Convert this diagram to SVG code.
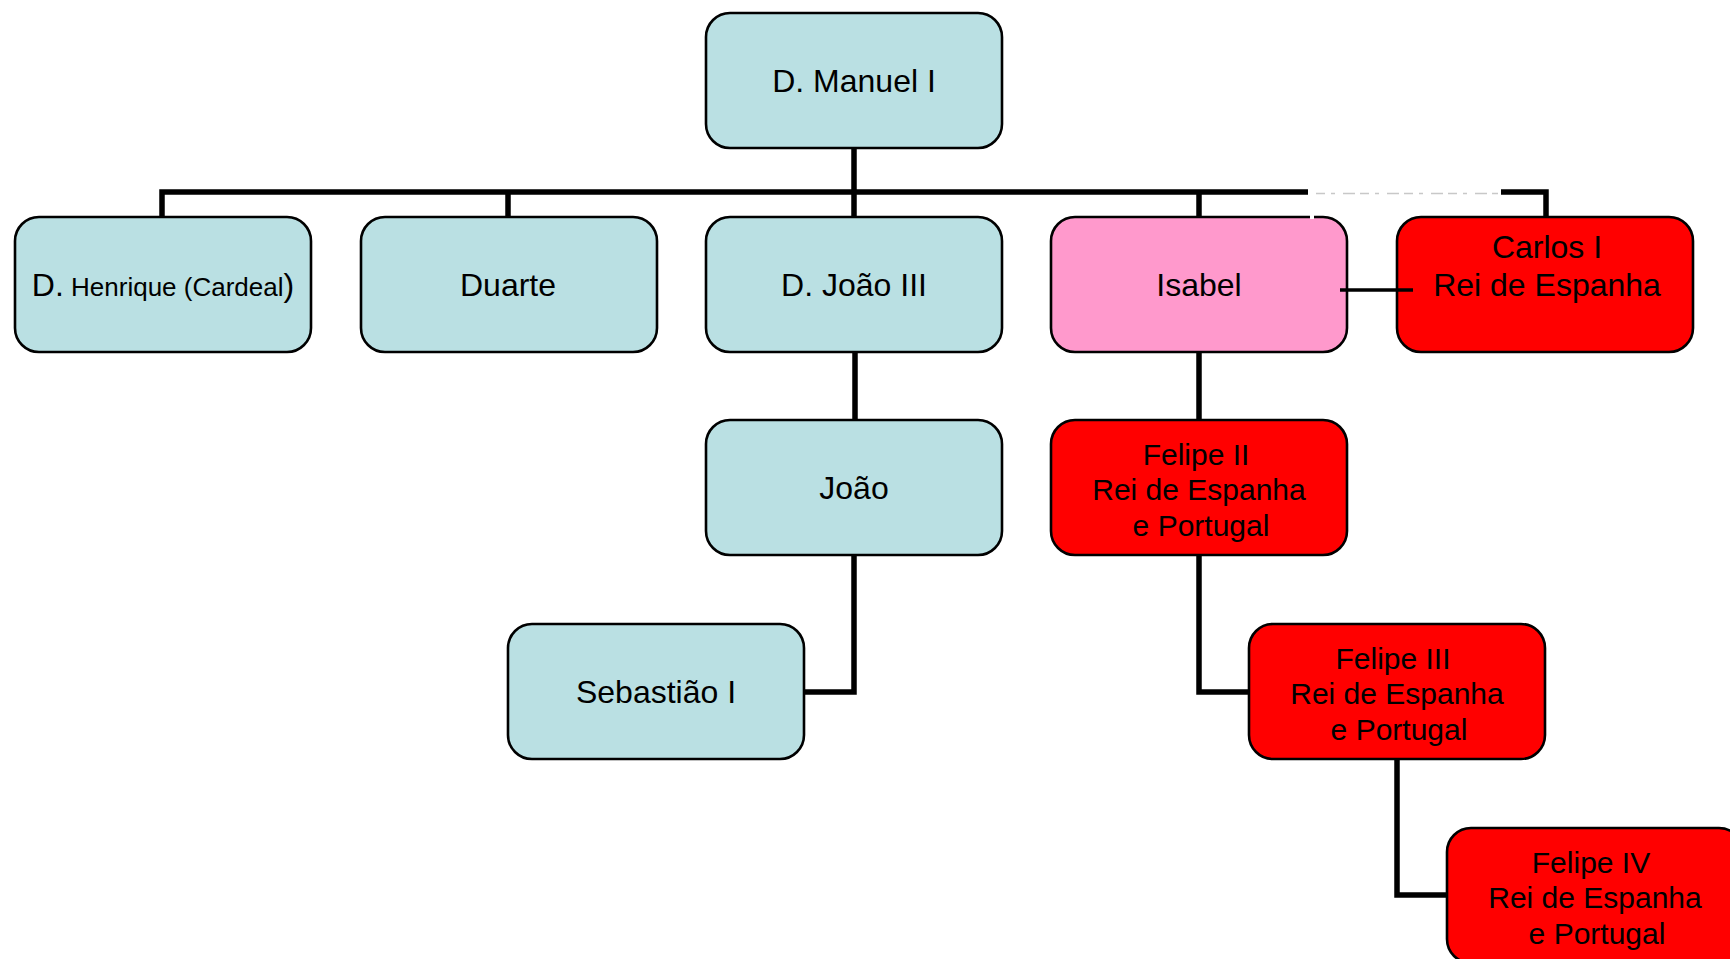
<svg xmlns="http://www.w3.org/2000/svg" width="1730" height="959" viewBox="0 0 1730 959">
<style>
.box{stroke:#000;stroke-width:2.6}
.blue{fill:#BAE0E3}
.pink{fill:#FF99CC}
.red{fill:#FF0000}
.conn{fill:none;stroke:#000;stroke-width:5.5;stroke-linejoin:miter;stroke-linecap:butt}
text{font-family:"Liberation Sans",Arial,sans-serif;fill:#000;text-anchor:middle}
.t{font-size:32px}
.f{font-size:30px}
</style>
<rect width="1730" height="959" fill="#fff"/>
<g id="manuel"><rect class="box blue" x="706" y="13" width="296" height="135" rx="24"/><text class="t" x="854" y="92">D. Manuel I</text></g>
<g id="henrique"><rect class="box blue" x="15" y="217" width="296" height="135" rx="24"/><text class="t" x="163" y="296">D.<tspan font-size="26"> Henrique (Cardeal</tspan>)</text></g>
<g id="duarte"><rect class="box blue" x="361" y="217" width="296" height="135" rx="24"/><text class="t" x="508" y="296">Duarte</text></g>
<g id="joao3"><rect class="box blue" x="706" y="217" width="296" height="135" rx="24"/><text class="t" x="854" y="296">D. João III</text></g>
<g id="isabel"><rect class="box pink" x="1051" y="217" width="296" height="135" rx="24"/><text class="t" x="1199" y="296">Isabel</text></g>
<g id="carlos"><rect class="box red" x="1397" y="217" width="296" height="135" rx="24"/><text class="t" x="1547" y="258">Carlos I</text><text class="t" x="1547" y="296">Rei de Espanha</text></g>
<g id="joao"><rect class="box blue" x="706" y="420" width="296" height="135" rx="24"/><text class="t" x="854" y="499">João</text></g>
<g id="sebastiao"><rect class="box blue" x="508" y="624" width="296" height="135" rx="24"/><text class="t" x="656" y="703">Sebastião I</text></g>
<g id="felipe2"><rect class="box red" x="1051" y="420" width="296" height="135" rx="24"/><text class="f" x="1196" y="464.5">Felipe II</text><text class="f" x="1199" y="500">Rei de Espanha</text><text class="f" x="1201" y="535.5">e Portugal</text></g>
<g id="felipe3"><rect class="box red" x="1249" y="624" width="296" height="135" rx="24"/><text class="f" x="1393" y="668.5">Felipe III</text><text class="f" x="1397" y="704">Rei de Espanha</text><text class="f" x="1399" y="739.5">e Portugal</text></g>
<g id="felipe4"><rect class="box red" x="1447" y="828" width="296" height="135" rx="24"/><text class="f" x="1591" y="872.5">Felipe IV</text><text class="f" x="1595" y="908">Rei de Espanha</text><text class="f" x="1597" y="943.5">e Portugal</text></g>
<g id="connectors">
<path class="conn" d="M854,148 V192 M162,216 V192 H1546 V216 M508,192 V216 M854,192 V216 M1199,192 V216"/>
<rect x="1308" y="185" width="193" height="13" fill="#fff"/>
<line x1="1316" y1="193.5" x2="1498" y2="193.5" stroke="#c8c8c8" stroke-width="1.5" stroke-dasharray="9 6 4 8 12 5"/>
<line x1="1312" y1="192" x2="1312" y2="219" stroke="#fff" stroke-width="4"/>
<path class="conn" d="M855,353 V419 M854,556 V692 H805 M1199,353 V419 M1199,556 V692 H1248 M1397,760 V895 H1446"/>
<line x1="1340" y1="290" x2="1413" y2="290" stroke="#000" stroke-width="3.5"/>
</g>
</svg>
